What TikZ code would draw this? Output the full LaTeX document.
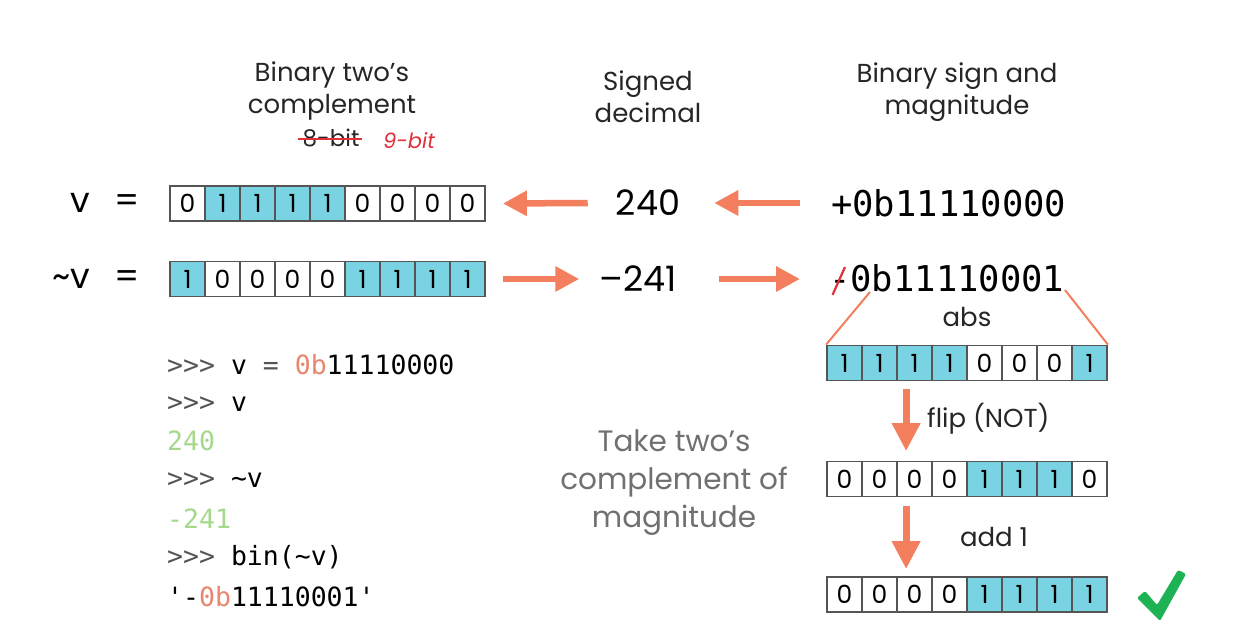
\documentclass[tikz,border=0pt]{standalone}
\usepackage{fontspec}
\setmainfont{Poppins}
\setmonofont{DejaVu Sans Mono}
\usetikzlibrary{arrows.meta}
\definecolor{arr}{HTML}{F47F5E}
\definecolor{cellblue}{HTML}{7AD3E3}
\definecolor{cellline}{HTML}{555555}
\definecolor{cgray}{HTML}{555555}
\definecolor{corange}{HTML}{E8866E}
\definecolor{cgreen}{HTML}{A5D88A}
\definecolor{tgray}{HTML}{707070}
\definecolor{pen}{HTML}{E0303A}
\definecolor{check}{HTML}{1DB254}
\tikzset{
  cell/.style={draw=cellline, line width=1.8pt, minimum width=35pt, minimum height=35pt, inner sep=0pt, font=\fontsize{25}{25}\selectfont},
  bit0/.style={fill=white},
  bit1/.style={fill=cellblue},
  bigarrow/.style={draw=arr, line width=6.5pt, -{Triangle[width=24pt,length=24pt]}},
  downarrow/.style={draw=arr, line width=7pt, -{Triangle[width=27pt,length=28pt]}},
  head/.style={align=center, font=\fontsize{26}{32}\selectfont, text=black!85},
  num/.style={font=\fontsize{35}{35}\selectfont, inner sep=0pt},
  bin/.style={font=\ttfamily\fontsize{35.5}{35.5}\selectfont, inner sep=0pt},
  code/.style={anchor=west, inner sep=0pt, font=\ttfamily\fontsize{26.5}{26.5}\selectfont},
  lbl/.style={font=\fontsize{26}{26}\selectfont, inner sep=0pt, text=black!85},
  conn/.style={draw=arr, line width=2pt}
}
\newcommand\register[4]{%
  \foreach \b [count=\i] in {#4} {
    \node[cell, bit\b] (#1-\i) at ({#2+(\i-0.5)*35},#3) {\b};
  }}
\begin{document}
\begin{tikzpicture}[x=1pt,y=-1pt]
\useasboundingbox[fill=white] (0,0) rectangle (1250,644);

% headers
\node[head] (h1) at (332,91) {Binary two’s\\complement};
\node[head] (h2) at (648,97) {Signed\\decimal};
\node[head] (h3) at (957,92) {Binary sign and\\magnitude};
\node[lbl, font=\fontsize{23}{23}\selectfont] (eight) at (331,138) {8-bit};
\draw[pen, line width=1.6pt] ([xshift=-4pt,yshift=-1pt]eight.west) -- ([xshift=2pt,yshift=-1pt]eight.east);
\node[lbl, text=pen, font=\itshape\fontsize{21}{21}\selectfont] (nine) at (409,141) {9-bit};

% left labels
\node[num, anchor=east] (vlab) at (140,203) {v\hspace{24pt}=};
\node[num, anchor=east] (nvlab) at (140,279) {\textasciitilde v\hspace{24pt}=};

% registers
\register{vreg}{170}{203.5}{0,1,1,1,1,0,0,0,0}
\register{nvreg}{170}{279}{1,0,0,0,0,1,1,1,1}

% decimal
\node[num] (d240) at (648,203) {240};
\node[num] (d241) at (638,279) {–241};

% sign magnitude
\node[bin, anchor=west] (pos) at (831,203) {+0b11110000};
\node[bin, anchor=west] (neg) at (829,278) {-0b11110001};
\draw[pen, line width=2.2pt] (832.5,295) -- (845,267);

% arrows row 1
\draw[bigarrow] ([xshift=-28pt]d240.west) -- ([xshift=17pt]vreg-9.east);
\draw[bigarrow] ([xshift=-31pt]pos.west) -- ([xshift=34pt]d240.east);
% arrows row 2
\draw[bigarrow] ([xshift=17pt]nvreg-9.east) -- ([xshift=-20pt]d241.west);
\draw[bigarrow] ([xshift=42pt]d241.east) -- ([xshift=-29pt]neg.west |- d241.east);

% abs register
\register{abs}{827}{363}{1,1,1,1,0,0,0,1}
\node[lbl] (abslbl) at (967,317) {abs};
\coordinate (absL) at (870,292);
\coordinate (absR) at (1065,290);
\draw[conn] (absL) -- (abs-1.north west);
\draw[conn] (absR) -- (abs-8.north east);

% flip register
\register{flip}{827}{479}{0,0,0,0,1,1,1,0}
\draw[downarrow] ([xshift=10pt,yshift=-8pt]abs-3.south west) -- ([xshift=10pt,yshift=9.5pt]flip-3.north west);
\node[lbl, anchor=west] (fliplbl) at (927,419) {flip (NOT)};

% add register
\register{add}{827}{594.5}{0,0,0,0,1,1,1,1}
\draw[downarrow] ([xshift=10pt,yshift=-8.5pt]flip-3.south west) -- ([xshift=10pt,yshift=7pt]add-3.north west);
\node[lbl] (addlbl) at (994,537) {add 1};

% check mark
\fill[check, rounded corners=1.5pt] (1137,598) -- (1145,591) -- (1157,605) -- (1178,570) -- (1186,574) -- (1160,621) -- cycle;

% take two's complement
\node[head, text=tgray, font=\fontsize{29.5}{38}\selectfont] (take) at (674,483) {Take two’s\\complement of\\magnitude};

% code
\node[code] (c1) at (167,365) {{\color{cgray}>>>} v {\color{cgray}=} {\color{corange}0b}11110000};
\node[code] (c2) at (167,404) {{\color{cgray}>>>} v};
\node[code, text=cgreen] (c3) at (167,441) {240};
\node[code] (c4) at (167,480) {{\color{cgray}>>>} \textasciitilde v};
\node[code, text=cgreen] (c5) at (167,519) {-241};
\node[code] (c6) at (167,557) {{\color{cgray}>>>} bin(\textasciitilde v)};
\node[code] (c7) at (167,597) {'-{\color{corange}0b}11110001'};
\end{tikzpicture}
\end{document}
